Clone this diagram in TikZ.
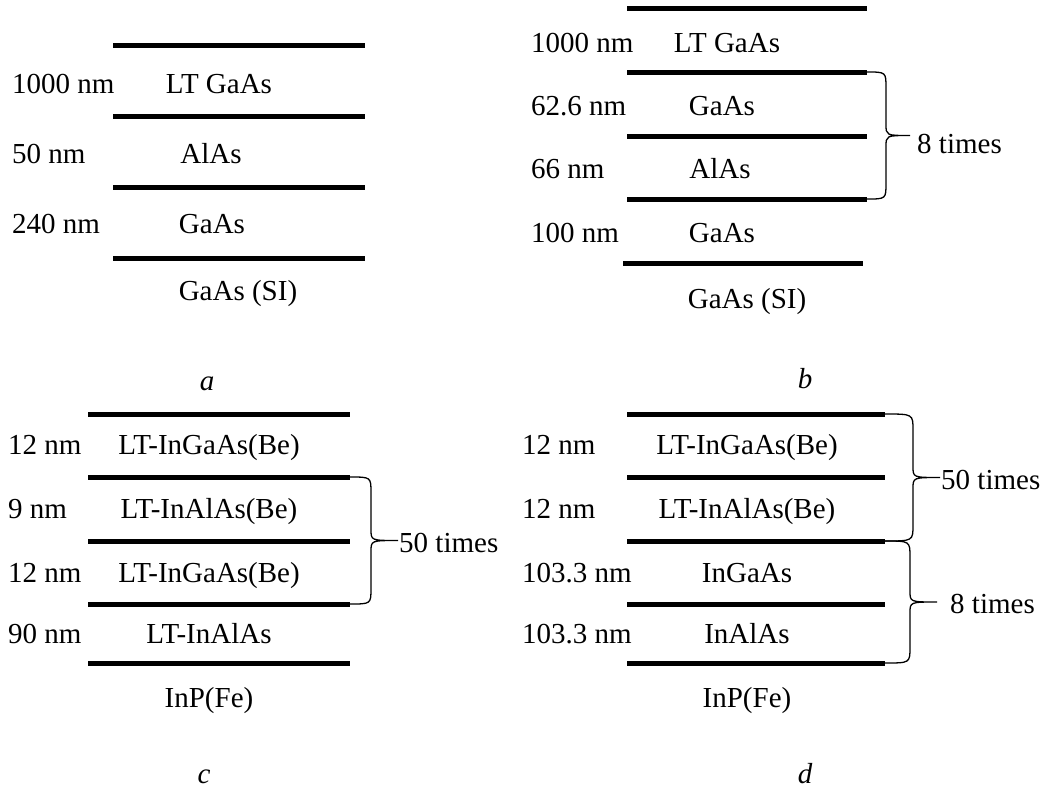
\documentclass[tikz,border=0pt]{standalone}
\usepackage{fontspec}
\setmainfont{Liberation Serif}
\usetikzlibrary{calc}

% one interface line between two layers: name, left x, right x, y (downwards)
\newcommand\interface[4]{%
  \coordinate (#1l) at (#2,-#4);
  \coordinate (#1r) at (#3,-#4);
  \draw[interfaceline] (#1l) -- (#1r);}

% curly brace from the right end of one interface to another:
% top point, bottom point, offset of the vertical stroke, offset of the tip
\newcommand\repbrace[4]{%
  \draw[bracestroke] let \p1=(#1), \p2=(#2), \n1={0.5*(\y1+\y2)} in
    (\p1) .. controls (\x1+#3,\y1) .. (\x1+#3,\y1-16)
    -- (\x1+#3,\n1+11) .. controls (\x1+#3,\n1) .. (\x1+#4,\n1)
    .. controls (\x1+#3,\n1) .. (\x1+#3,\n1-11)
    -- (\x1+#3,\y2+16) .. controls (\x1+#3,\y2) .. (\p2);}

\begin{document}
\begin{tikzpicture}[x=1pt,y=1pt,
  interfaceline/.style={line width=5pt},
  bracestroke/.style={line width=1.3pt},
  lbl/.style={inner sep=0pt,font=\fontsize{29}{35}\selectfont},
  thick/.style={lbl,anchor=base west},
  mat/.style={lbl,anchor=base},
  tag/.style={lbl,anchor=base,font=\fontsize{29}{35}\selectfont\itshape}]
\useasboundingbox (0,0) rectangle (1046,-790);

% ---------- a ----------
\interface{a1}{113}{365}{45}
\interface{a2}{113}{365}{116}
\interface{a3}{113}{365}{187}
\interface{a4}{113}{365}{258}
\node[thick] (at1) at (12,-93)  {1000 nm};
\node[mat]   (am1) at (219,-93) {LT GaAs};
\node[thick] (at2) at (12,-163) {50 nm};
\node[mat]   (am2) at (211,-163) {AlAs};
\node[thick] (at3) at (12,-233) {240 nm};
\node[mat]   (am3) at (212,-233) {GaAs};
\node[mat]   (asub) at (238,-300) {GaAs (SI)};
\node[tag]   (atag) at (207,-390) {a};

% ---------- b ----------
\interface{b1}{627}{867}{8}
\interface{b2}{627}{867}{72}
\interface{b3}{627}{867}{136}
\interface{b4}{627}{867}{199}
\interface{b5}{623}{863}{263}
\node[thick] (bt1) at (531,-52)  {1000 nm};
\node[mat]   (bm1) at (727,-52)  {LT GaAs};
\node[thick] (bt2) at (531,-115) {62.6 nm};
\node[mat]   (bm2) at (722,-115) {GaAs};
\node[thick] (bt3) at (531,-178) {66 nm};
\node[mat]   (bm3) at (720,-178) {AlAs};
\node[thick] (bt4) at (531,-242) {100 nm};
\node[mat]   (bm4) at (722,-242) {GaAs};
\node[mat]   (bsub) at (747,-308) {GaAs (SI)};
\node[tag]   (btag) at (805,-388) {b};
\repbrace{b2r}{b4r}{19}{43}
\node[thick] (brep) at (917,-153) {8 times};

% ---------- c ----------
\interface{c1}{88}{350}{414}
\interface{c2}{88}{350}{477}
\interface{c3}{88}{350}{541}
\interface{c4}{88}{350}{604}
\interface{c5}{88}{350}{663}
\node[thick] (ct1) at (8,-454) {12 nm};
\node[mat]   (cm1) at (209,-454) {LT-InGaAs(Be)};
\node[thick] (ct2) at (8,-518) {9 nm};
\node[mat]   (cm2) at (209,-518) {LT-InAlAs(Be)};
\node[thick] (ct3) at (8,-582) {12 nm};
\node[mat]   (cm3) at (209,-582) {LT-InGaAs(Be)};
\node[thick] (ct4) at (8,-643) {90 nm};
\node[mat]   (cm4) at (209,-643) {LT-InAlAs};
\node[mat]   (csub) at (209,-707) {InP(Fe)};
\node[tag]   (ctag) at (204,-783) {c};
\repbrace{c2r}{c4r}{21}{48}
\node[thick] (crep) at (399,-552) {50 times};

% ---------- d ----------
\interface{d1}{627}{885}{414}
\interface{d2}{627}{885}{477}
\interface{d3}{627}{885}{541}
\interface{d4}{627}{885}{604}
\interface{d5}{627}{885}{663}
\node[thick] (dt1) at (522,-454) {12 nm};
\node[mat]   (dm1) at (747,-454) {LT-InGaAs(Be)};
\node[thick] (dt2) at (522,-518) {12 nm};
\node[mat]   (dm2) at (747,-518) {LT-InAlAs(Be)};
\node[thick] (dt3) at (522,-582) {103.3 nm};
\node[mat]   (dm3) at (747,-582) {InGaAs};
\node[thick] (dt4) at (522,-643) {103.3 nm};
\node[mat]   (dm4) at (747,-643) {InAlAs};
\node[mat]   (dsub) at (747,-707) {InP(Fe)};
\node[tag]   (dtag) at (805,-783) {d};
\repbrace{d1r}{d3r}{28}{55}
\node[thick] (drep1) at (941,-489) {50 times};
\repbrace{d3r}{d5r}{25}{52}
\node[thick] (drep2) at (950,-613) {8 times};
\end{tikzpicture}
\end{document}
